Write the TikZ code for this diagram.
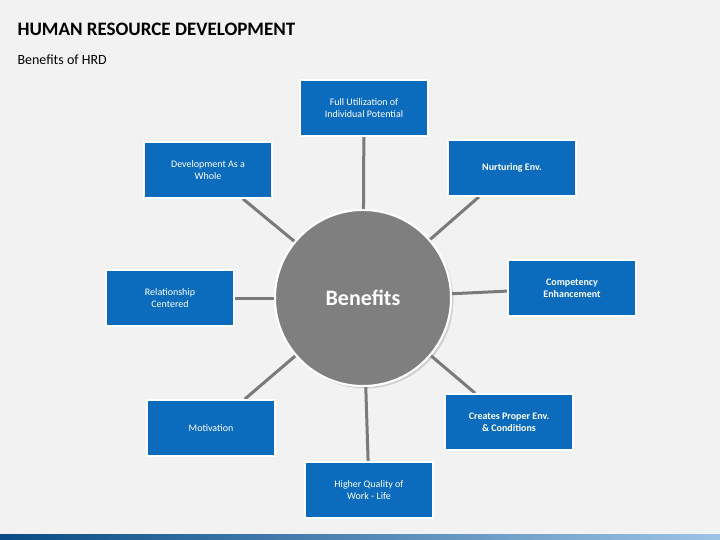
\documentclass[tikz,border=0pt]{standalone}
\usepackage{fontspec}
\setmainfont{Carlito}
\usetikzlibrary{positioning,shadows}
\definecolor{bgGrey}{HTML}{F2F2F2}
\definecolor{boxBlue}{HTML}{0B6BBD}
\definecolor{hubGrey}{HTML}{7F7F7F}
\definecolor{linkGrey}{HTML}{7A7A7A}
\tikzset{
  benefit/.style={draw=white, line width=1.6pt, fill=boxBlue, text=white,
    minimum width=128pt, minimum height=56pt, align=center, font=\fontsize{10}{12}\selectfont,
    drop shadow={shadow xshift=0.6pt, shadow yshift=-1.2pt, opacity=0.4}},
  link/.style={draw=linkGrey, line width=3pt}
}
\begin{document}
\begin{tikzpicture}[x=1pt,y=-1pt]
		% Hintergrund
		\fill[bgGrey] (0,0) rectangle (720,540);
		\useasboundingbox (0,0) rectangle (720,540);
		\shade[left color=boxBlue!70!black, right color=boxBlue!40] (0,534) rectangle (720,540);
		% Titel
		\node[anchor=west, font=\fontsize{19}{22}\selectfont\bfseries] (title) at (14,29) {HUMAN RESOURCE DEVELOPMENT};
		\node[anchor=west, font=\fontsize{14}{16}\selectfont] (subtitle) at (14,60) {Benefits of HRD};
		% Boxen
		\node[benefit] (potential) at (364,108) {Full Utilization of\\Individual Potential};
		\node[benefit, font=\fontsize{10}{12}\selectfont\bfseries] (nurturing) at (512,168) {Nurturing Env.};
		\node[benefit, font=\fontsize{10}{12}\selectfont\bfseries] (competency) at (572,288) {Competency\\Enhancement};
		\node[benefit, font=\fontsize{10}{12}\selectfont\bfseries] (conditions) at (509,422) {Creates Proper Env.\\\& Conditions};
		\node[benefit] (quality) at (369,490) {Higher Quality of\\Work - Life};
		\node[benefit] (motivation) at (211,428) {Motivation};
		\node[benefit] (relationship) at (170,298) {Relationship\\Centered};
		\node[benefit] (whole) at (208,170) {Development As a\\Whole};
		% Kreis
		\node[circle, draw=white, line width=2pt, fill=hubGrey, minimum size=176pt, text=white,
		  font=\fontsize{22}{26}\selectfont\bfseries, drop shadow={opacity=0.3}] (hub) at (363,298) {Benefits};
		% Verbindungen
		\begin{scope}[on background layer/.style={}]
		\foreach \b in {potential,nurturing,competency,conditions,quality,motivation,relationship,whole}
		  \path[link] (hub) -- (\b);
		\end{scope}
		% Nochmals oben
		\foreach \b/\t/\f in {potential/{Full Utilization of\\Individual Potential}/,
		  nurturing/{Nurturing Env.}/\bfseries, competency/{Competency\\Enhancement}/\bfseries,
		  conditions/{Creates Proper Env.\\\& Conditions}/\bfseries, quality/{Higher Quality of\\Work - Life}/,
		  motivation/{Motivation}/, relationship/{Relationship\\Centered}/, whole/{Development As a\\Whole}/}
		  \node[benefit, font=\fontsize{10}{12}\selectfont\f] at (\b) {\t};
		\node[circle, draw=white, line width=2pt, fill=hubGrey, minimum size=176pt, text=white,
		  font=\fontsize{22}{26}\selectfont\bfseries] at (hub) {Benefits};
	\end{tikzpicture}
\end{document}
